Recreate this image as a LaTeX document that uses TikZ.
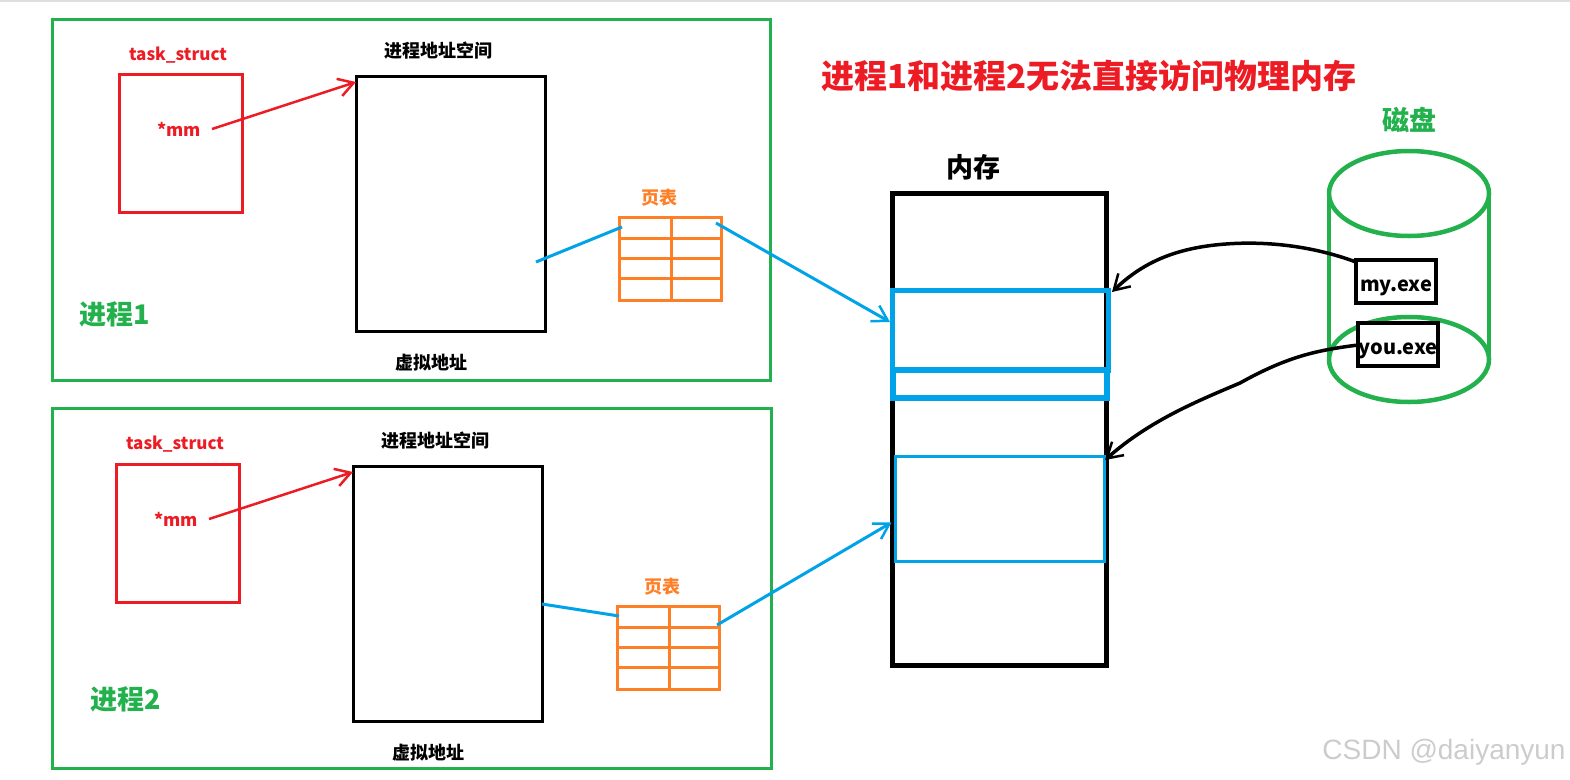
\documentclass[tikz,border=0pt]{standalone}
\usepackage{fontspec}
\setmainfont{Noto Sans CJK SC}
\newfontfamily\markfont{Liberation Sans}
\usepackage{xcolor}
\usetikzlibrary{shapes.geometric,arrows.meta,positioning}
\definecolor{paintgreen}{HTML}{22B14C}
\definecolor{paintred}{HTML}{ED1C24}
\definecolor{paintorange}{HTML}{FF7F27}
\definecolor{paintblue}{HTML}{00A2E8}

\begin{document}
\begin{tikzpicture}[
    x=1pt, y=-1pt,
    >={Straight Barb[length=15pt,width=18pt,line width=2.5pt]},
    frame/.style={rectangle, draw, inner sep=0pt, outer sep=0pt, anchor=north west},
    procbox/.style={frame, draw=paintgreen, line width=3pt},
    taskbox/.style={frame, draw=paintred, line width=3pt, minimum width=123pt, minimum height=138pt},
    vasbox/.style={frame, line width=3pt, minimum width=189pt, minimum height=255pt},
    tablebox/.style={frame, draw=paintorange, line width=3pt, minimum width=102pt, minimum height=83pt},
    disk/.style={ellipse, draw=paintgreen, line width=4.5pt, inner sep=0pt, outer sep=0pt, minimum width=160pt, minimum height=85pt},
    exebox/.style={frame, fill=white, line width=4.5pt, minimum width=80pt, minimum height=43pt, text height=19pt, text depth=0pt, font=\bfseries\fontsize{20}{22}\selectfont},
    lbl/.style={inner sep=0pt, font=\bfseries\fontsize{#1}{#1}\selectfont},
    lbl/.default=18,
    redline/.style={paintred, line width=2.5pt},
    blueline/.style={paintblue, line width=3pt},
    curve/.style={line width=3.5pt}
]
\useasboundingbox (0,0) rectangle (1570,779);
\fill[black!13] (0,0) rectangle (1570,1.5);

% process 1
\node[procbox, minimum width=718pt, minimum height=361pt] (proc1) at (52,19) {};
\node[taskbox, below right=55pt and 67pt of proc1.north west] (task1) {};
\node[vasbox, below right=57pt and 304pt of proc1.north west] (vas1) {};
\node[tablebox, below right=198pt and 567pt of proc1.north west] (table1) {};
\node[lbl=17, text=paintred] (name1) at (178,55) {task\_struct};
\node[lbl=17.5, text=paintred] (mm1) at (179,129) {*mm};
\node[lbl] (vastitle1) at (438,51) {进程地址空间};
\node[lbl] (virt1) at (431,363) {虚拟地址};
\node[lbl=18, text=paintorange] (tabletitle1) at (659,198) {页表};
\node[lbl=27, text=paintgreen] (title1) at (115,314) {进程1};

% process 2
\node[procbox, minimum width=719pt, minimum height=360pt] (proc2) at (52,408) {};
\node[taskbox, below right=56pt and 64pt of proc2.north west] (task2) {};
\node[vasbox, below right=58pt and 301pt of proc2.north west] (vas2) {};
\node[tablebox, below right=198pt and 565pt of proc2.north west] (table2) {};
\node[lbl=17, text=paintred] (name2) at (175,444) {task\_struct};
\node[lbl=17.5, text=paintred] (mm2) at (176,519) {*mm};
\node[lbl] (vastitle2) at (435,440.5) {进程地址空间};
\node[lbl] (virt2) at (428,752.5) {虚拟地址};
\node[lbl=18, text=paintorange] (tabletitle2) at (662,587) {页表};
\node[lbl=27, text=paintgreen] (title2) at (126,699) {进程2};

\foreach \tbl in {table1,table2} {
    \foreach \r in {21,41,61}
        \draw[paintorange, line width=3pt] ([yshift=-\r pt]\tbl.north west) -- ([yshift=-\r pt]\tbl.north east);
    \draw[paintorange, line width=3pt] ([xshift=52pt]\tbl.north west) -- ([xshift=52pt]\tbl.south west);
}

% memory
\node[frame, line width=5pt, minimum width=214pt, minimum height=472pt] (mem) at (892.5,193.5) {};
\node[frame, draw=paintblue, line width=5pt, minimum width=215.5pt, minimum height=80pt, below right=97pt and 0pt of mem.north west] (seg1) {};
\node[frame, draw=paintblue, line width=6pt, minimum width=213.5pt, minimum height=28pt, below right=176.5pt and 0.5pt of mem.north west] (seg2) {};
\node[frame, draw=paintblue, line width=3pt, minimum width=209.3pt, minimum height=104.6pt, below right=263.2pt and 2.5pt of mem.north west] (seg3) {};
\node[lbl=27] (memtitle) at (973,167) {内存};
\node[lbl=33, text=paintred] (headline) at (1089,76) {进程1和进程2无法直接访问物理内存};

% disk
\node[disk] (disktop) at (1409,193.5) {};
\node[disk] (diskbot) at (1409,359.5) {};
\draw[paintgreen, line width=4.5pt] (disktop.west) -- (diskbot.west);
\draw[paintgreen, line width=4.5pt] (disktop.east) -- (diskbot.east);
\node[lbl=27, text=paintgreen] (disktitle) at (1409,120) {磁盘};
\node[exebox] (myexe) at (1356,260) {my.exe};
\node[exebox] (youexe) at (1358,323) {you.exe};

\coordinate (in1) at (890,322);
\coordinate (in2) at (891.5,522.5);
\coordinate (in3) at (1112,292);
\coordinate (in4) at (1105,460);

\draw[->, redline] ([xshift=11pt]mm1.east) -- ([yshift=-6pt]vas1.north west);
\draw[->, redline] ([xshift=11pt]mm2.east) -- ([yshift=-6pt]vas2.north west);
\draw[blueline] ([xshift=-9pt,yshift=69pt]vas1.south east) -- ([xshift=3pt,yshift=-10pt]table1.north west);
\draw[blueline] ([yshift=117pt]vas2.south east) -- ([xshift=2pt,yshift=-10pt]table2.north west);
\draw[->, blueline] ([xshift=-5pt,yshift=-6pt]table1.north east) -- (in1);
\draw[->, blueline] ([xshift=-2pt,yshift=-19pt]table2.north east) -- (in2);
\draw[->, curve] ([yshift=-2pt]myexe.north west) .. controls (1310,245) and (1260,240) .. (1215,245) .. controls (1170,250) and (1140,265) .. (in3);
\draw[->, curve] ([yshift=-22pt]youexe.north west) .. controls (1320,350) and (1290,355) .. (1240,383) .. controls (1200,400) and (1150,420) .. (in4);

\node[font=\markfont\fontsize{28}{28}\selectfont, text=black!20, inner sep=0pt] (mark) at (1444,752) {CSDN @daiyanyun};
\end{tikzpicture}
\end{document}
